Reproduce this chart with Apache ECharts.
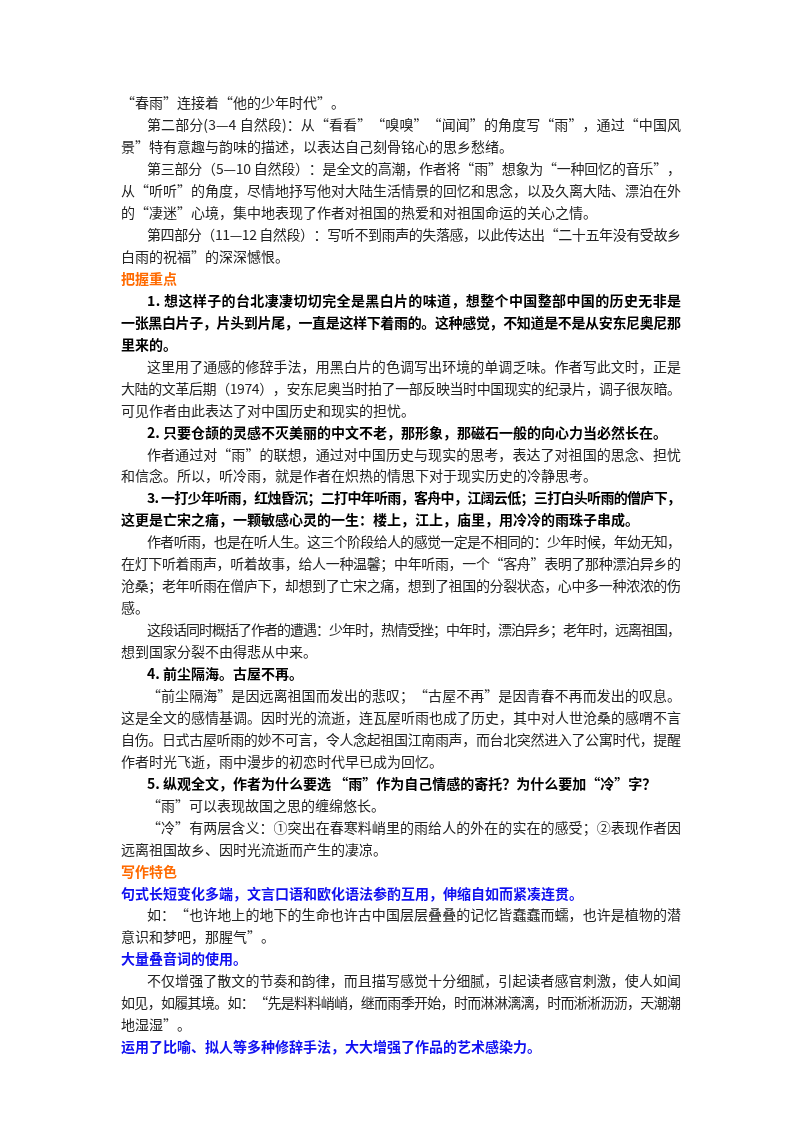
<!DOCTYPE html>
<html><head><meta charset="utf-8">
<script src="https://cdn.jsdelivr.net/npm/echarts@6/dist/echarts.min.js"></script>
<style>html,body{margin:0;padding:0;background:#fff}#c{width:800px;height:1132px}</style>
</head><body><div id="c"></div>
<script>
// kinds: n=normal, b=bold, o=orange heading, u=blue bold
const lineTexts = [
"“春雨”连接着“他的少年时代”。",
"第二部分(3—4 自然段)：从“看看”“嗅嗅”“闻闻”的角度写“雨”，通过“中国风",
"景”特有意趣与韵味的描述，以表达自己刻骨铭心的思乡愁绪。",
"第三部分（5—10 自然段）：是全文的高潮，作者将“雨”想象为“一种回忆的音乐”，",
"从“听听”的角度，尽情地抒写他对大陆生活情景的回忆和思念，以及久离大陆、漂泊在外",
"的“凄迷”心境，集中地表现了作者对祖国的热爱和对祖国命运的关心之情。",
"第四部分（11—12 自然段）：写听不到雨声的失落感，以此传达出“二十五年没有受故乡",
"白雨的祝福”的深深憾恨。",
"把握重点",
"1. 想这样子的台北凄凄切切完全是黑白片的味道，想整个中国整部中国的历史无非是",
"一张黑白片子，片头到片尾，一直是这样下着雨的。这种感觉，不知道是不是从安东尼奥尼那",
"里来的。",
"这里用了通感的修辞手法，用黑白片的色调写出环境的单调乏味。作者写此文时，正是",
"大陆的文革后期（1974），安东尼奥当时拍了一部反映当时中国现实的纪录片，调子很灰暗。",
"可见作者由此表达了对中国历史和现实的担忧。",
"2. 只要仓颉的灵感不灭美丽的中文不老，那形象，那磁石一般的向心力当必然长在。",
"作者通过对“雨”的联想，通过对中国历史与现实的思考，表达了对祖国的思念、担忧",
"和信念。所以，听冷雨，就是作者在炽热的情思下对于现实历史的冷静思考。",
"3. 一打少年听雨，红烛昏沉；二打中年听雨，客舟中，江阔云低；三打白头听雨的僧庐下，",
"这更是亡宋之痛，一颗敏感心灵的一生：楼上，江上，庙里，用冷冷的雨珠子串成。",
"作者听雨，也是在听人生。这三个阶段给人的感觉一定是不相同的：少年时候，年幼无知，",
"在灯下听着雨声，听着故事，给人一种温馨；中年听雨，一个“客舟”表明了那种漂泊异乡的",
"沧桑；老年听雨在僧庐下，却想到了亡宋之痛，想到了祖国的分裂状态，心中多一种浓浓的伤",
"感。",
"这段话同时概括了作者的遭遇：少年时，热情受挫；中年时，漂泊异乡；老年时，远离祖国，",
"想到国家分裂不由得悲从中来。",
"4. 前尘隔海。古屋不再。",
"“前尘隔海”是因远离祖国而发出的悲叹；“古屋不再”是因青春不再而发出的叹息。",
"这是全文的感情基调。因时光的流逝，连瓦屋听雨也成了历史，其中对人世沧桑的感喟不言",
"自伤。日式古屋听雨的妙不可言，令人念起祖国江南雨声，而台北突然进入了公寓时代，提醒",
"作者时光飞逝，雨中漫步的初恋时代早已成为回忆。",
"5. 纵观全文，作者为什么要选 “雨”作为自己情感的寄托？为什么要加“冷”字？",
"“雨”可以表现故国之思的缠绵悠长。",
"“冷”有两层含义：①突出在春寒料峭里的雨给人的外在的实在的感受；②表现作者因",
"远离祖国故乡、因时光流逝而产生的凄凉。",
"写作特色",
"句式长短变化多端，文言口语和欧化语法参酌互用，伸缩自如而紧凑连贯。",
"如：“也许地上的地下的生命也许古中国层层叠叠的记忆皆蠢蠢而蠕，也许是植物的潜",
"意识和梦吧，那腥气”。",
"大量叠音词的使用。",
"不仅增强了散文的节奏和韵律，而且描写感觉十分细腻，引起读者感官刺激，使人如闻",
"如见，如履其境。如：“先是料料峭峭，继而雨季开始，时而淋淋漓漓，时而淅淅沥沥，天潮潮",
"地湿湿”。",
"运用了比喻、拟人等多种修辞手法，大大增强了作品的艺术感染力。"
];
const lineKinds = ["n","n","n","n","n","n","n","n","o","b","b","b","n","n","n","b","n","n","b","b","n","n","n","n","n","n","b","n","n","n","n","b","n","n","n","o","u","n","n","u","n","n","n","u"];
const lineIndent = [0,1,0,1,0,0,1,0,0,1,0,0,1,0,0,1,1,0,1,0,1,0,0,0,1,0,1,1,0,0,0,1,1,1,0,0,0,1,0,0,1,0,0,0];
const lineJustify = [0,1,0,1,1,0,1,0,0,1,1,0,1,1,0,0,1,0,1,0,1,1,1,0,1,0,0,1,1,1,0,0,0,1,0,0,0,1,0,0,1,1,0,0];
const kindColor = {n:"#222",b:"#000",o:"#FF6A00",u:"#1010F0"};
const chart = echarts.init(document.getElementById('c'));
const ctx = document.createElement('canvas').getContext('2d');
const RIGHT = 681;
const graphic = [];
lineTexts.forEach((t,i)=>{
  const font = (lineKinds[i]==='n'?'normal ':'bold ')+'14px "Noto Sans CJK SC", sans-serif';
  const left = lineIndent[i]?147:121;
  const top = 96 + i*21.95;
  const fill = kindColor[lineKinds[i]];
  if(!lineJustify[i]){
    graphic.push({type:'text',left,top,style:{text:t,fill,font}});
    return;
  }
  ctx.font = font;
  const chars = Array.from(t);
  const widths = chars.map(c=>ctx.measureText(c).width);
  const total = widths.reduce((a,b)=>a+b,0);
  const gap = (RIGHT-left-total)/(chars.length-1);
  let x = left;
  chars.forEach((c,k)=>{
    graphic.push({type:'text',x:x,y:top,style:{text:c,fill,font,textVerticalAlign:'top'}});
    x += widths[k]+gap;
  });
});
chart.setOption({animation:false, graphic});
</script></body></html>
